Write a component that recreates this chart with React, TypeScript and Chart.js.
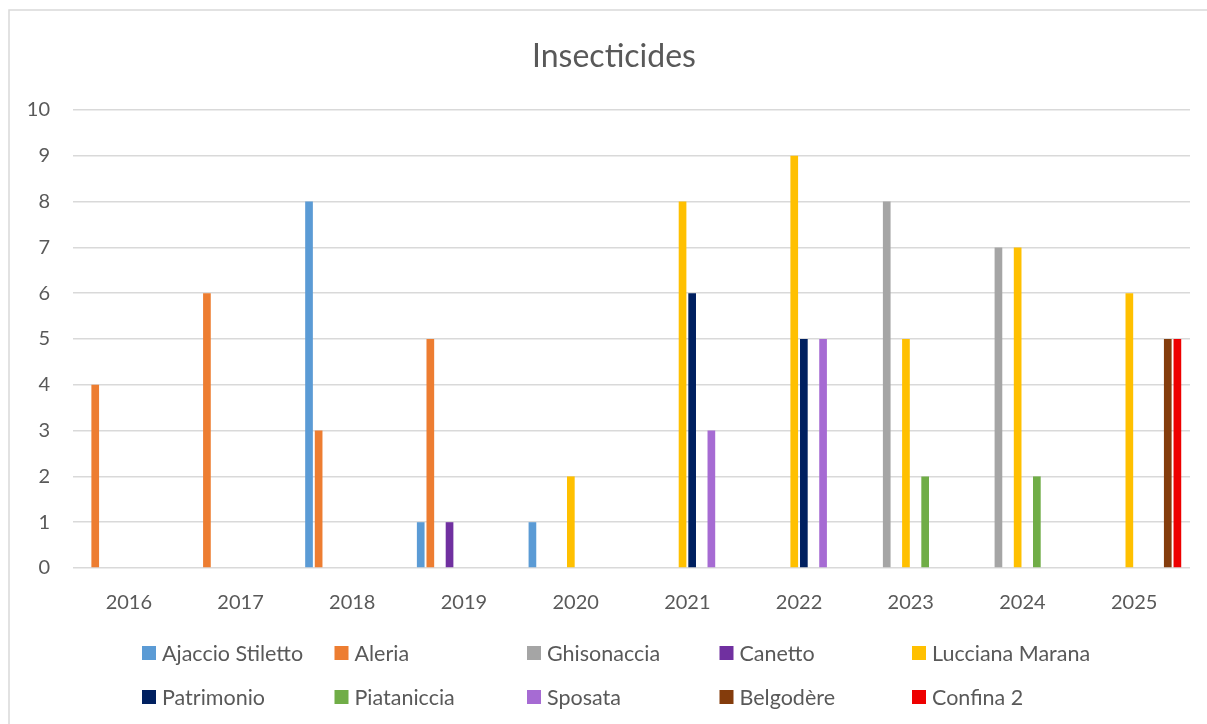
import React, { useEffect, useRef } from "react";
import { Chart, registerables } from "chart.js";

Chart.register(...registerables);

const categories = ["2016", "2017", "2018", "2019", "2020", "2021", "2022", "2023", "2024", "2025"];
const seriesNames = [
  "Ajaccio Stiletto",
  "Aleria",
  "Ghisonaccia",
  "Canetto",
  "Lucciana Marana",
  "Patrimonio",
  "Piataniccia",
  "Sposata",
  "Belgodère",
  "Confina 2",
];
const ajaccioStiletto = [null, null, 8, 1, 1, null, null, null, null, null];
const aleria = [4, 6, 3, 5, null, null, null, null, null, null];
const ghisonaccia = [null, null, null, null, null, null, null, 8, 7, null];
const canetto = [null, null, null, 1, null, null, null, null, null, null];
const luccianaMarana = [null, null, null, null, 2, 8, 9, 5, 7, 6];
const patrimonio = [null, null, null, null, null, 6, 5, null, null, null];
const piataniccia = [null, null, null, null, null, null, null, 2, 2, null];
const sposata = [null, null, null, null, null, 3, 5, null, null, null];
const belgodere = [null, null, null, null, null, null, null, null, null, 5];
const confina2 = [null, null, null, null, null, null, null, null, null, 5];
const yTicks = [0, 1, 2, 3, 4, 5, 6, 7, 8, 9, 10];

const seriesValues = [
  ajaccioStiletto,
  aleria,
  ghisonaccia,
  canetto,
  luccianaMarana,
  patrimonio,
  piataniccia,
  sposata,
  belgodere,
  confina2,
];
const seriesColors = [
  "#5B9BD5",
  "#ED7D31",
  "#A5A5A5",
  "#7030A0",
  "#FFC000",
  "#002060",
  "#70AD47",
  "#A66BD3",
  "#843C0C",
  "#EE0000",
];

const FONT = "Lato, 'Open Sans', sans-serif";
const TEXT = "#595959";

const decorPlugin = {
  id: "decor",
  beforeDraw(chart: any) {
    const ctx = chart.ctx;
    ctx.save();
    ctx.fillStyle = "#ffffff";
    ctx.fillRect(0, 0, chart.width, chart.height);
    ctx.strokeStyle = "#D9D9D9";
    ctx.lineWidth = 1.5;
    ctx.beginPath();
    ctx.moveTo(9, chart.height + 5);
    ctx.lineTo(9, 10);
    ctx.lineTo(chart.width + 5, 10);
    ctx.stroke();
    ctx.restore();
  },
  afterDraw(chart: any) {
    const ctx = chart.ctx;
    ctx.save();
    // title
    ctx.fillStyle = TEXT;
    ctx.font = `32px ${FONT}`;
    ctx.textAlign = "center";
    ctx.textBaseline = "alphabetic";
    ctx.fillText("Insecticides", 614, 67);
    // legend
    ctx.font = `21.5px ${FONT}`;
    ctx.textAlign = "left";
    ctx.textBaseline = "middle";
    chart.data.datasets.forEach((ds: any, i: number) => {
      const col = i % 5;
      const row = Math.floor(i / 5);
      const x = 142 + col * 192.5;
      const y = 653 + row * 44;
      ctx.fillStyle = ds.backgroundColor;
      ctx.fillRect(x, y - 7, 14, 14);
      ctx.fillStyle = TEXT;
      ctx.fillText(ds.label, x + 20, y + 1);
    });
    ctx.restore();
  },
};

export default function App() {
  const ref = useRef<HTMLCanvasElement | null>(null);
  useEffect(() => {
    if (!ref.current) return;
    document.body.style.margin = "0";
    document.body.style.overflow = "hidden";
    const chart = new Chart(ref.current, {
      type: "bar",
      data: {
        labels: categories,
        datasets: seriesNames.map((name, i) => ({
          label: name,
          data: seriesValues[i],
          backgroundColor: seriesColors[i],
          borderWidth: 0,
          categoryPercentage: 0.86,
          barPercentage: 0.8,
        })),
      },
      options: {
        animation: false,
        responsive: false,
        maintainAspectRatio: false,
        layout: { padding: { left: 0, right: 17, top: 110, bottom: 96 } },
        plugins: {
          legend: { display: false },
          title: { display: false },
          tooltip: { enabled: false },
        },
        scales: {
          x: {
            grid: { display: false },
            border: { display: false },
            ticks: { color: TEXT, font: { family: FONT, size: 20 }, padding: 15 },
            afterFit(scale: any) {
              scale.height = 60;
            },
          },
          y: {
            min: 0,
            max: 10,
            afterBuildTicks(scale: any) {
              scale.ticks = yTicks.map((v) => ({ value: v }));
            },
            grid: { color: "#D9D9D9", lineWidth: 1.5, drawTicks: false },
            border: { display: false },
            ticks: { color: TEXT, font: { family: FONT, size: 20 }, padding: 23 },
            afterFit(scale: any) {
              scale.width = 73;
            },
          },
        },
      },
      plugins: [decorPlugin],
    });
    return () => chart.destroy();
  }, []);
  return (
    <div style={{ position: "absolute", left: 0, top: 0, width: 1207, height: 724, background: "#fff" }}>
      <canvas ref={ref} width={1207} height={724} style={{ display: "block" }} />
    </div>
  );
}
